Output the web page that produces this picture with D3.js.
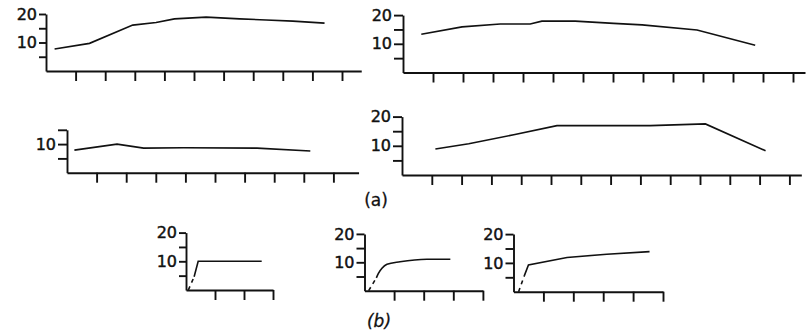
<!DOCTYPE html>
<html>
<head>
	<meta charset="utf-8">
	<script src="https://d3js.org/d3.v7.min.js"></script>
	<style>
		body { margin: 0; background: #fff; }
		svg { display: block; }
		.tick text { font-family: "DejaVu Sans", sans-serif; font-size: 16px; fill: #111; stroke: #111; stroke-width: 0.45; }
		.domain, .tick line { stroke: #111; stroke-width: 1.9; }
		.series { fill: none; stroke: #111; stroke-width: 1.6; }
		.dash { stroke-dasharray: 4,4; }
		.cap { font-family: "DejaVu Sans", sans-serif; font-size: 17px; fill: #111; stroke: #111; stroke-width: 0.3; }
	</style>
</head>
<body>
<script>
// values; x is in tick units, y in the chart's units
var a1x = [0.29, 1.47, 2.93, 3.72, 4.34, 5.41, 6.54, 7.44, 8.34, 9.41];
var a1y = [7.7, 9.7, 16.1, 17.0, 18.3, 18.9, 18.3, 17.9, 17.5, 16.8];

var a2x = [0.61, 1.97, 3.24, 4.24, 4.63, 5.74, 7.02, 7.97, 9.8, 11.74];
var a2y = [13.3, 15.9, 16.9, 16.9, 17.9, 17.9, 17.1, 16.6, 14.8, 9.5];

var a3x = [0.25, 1.69, 2.59, 3.94, 6.42, 8.22];
var a3y = [7.9, 10.0, 8.6, 8.7, 8.6, 7.6];

var a4x = [1.12, 2.24, 3.75, 5.2, 8.33, 10.18, 12.2];
var a4y = [8.9, 10.7, 13.8, 16.9, 16.9, 17.5, 8.3];

var b1dashX = [0.08, 0.28], b1dashY = [0, 4.6];
var b1x = [0.28, 0.42, 2.61], b1y = [4.6, 10, 10];

var b2dashX = [0.14, 0.4], b2dashY = [0, 4.5];
var b2x = [0.4, 0.47, 0.59, 0.76, 1.2, 2.11, 2.9];
var b2y = [4.5, 6.1, 7.9, 9.3, 10.2, 11.1, 11.1];

var b3dashX = [0.17, 0.36], b3dashY = [0, 5.5];
var b3x = [0.36, 0.5, 1.79, 3.12, 4.55];
var b3y = [5.5, 9.3, 11.9, 13.0, 13.9];

var yTicksFull = [5, 10, 15, 20];
var yTicksShort = [5, 10, 15];
var yLabels = [10, 20];
var captions = ["(a)", "(b)"];

var svg = d3.select("body").append("svg").attr("width", 811).attr("height", 332);

// one small chart: origin, tick spacing, axis length and pixels per unit
function panel(p) {
	var x = d3.scaleLinear().domain([0, p.xMax]).range([p.x0, p.x0 + p.xMax * p.sp]);
	var yMax = d3.max(p.yTicks);
	var y = d3.scaleLinear().domain([0, yMax]).range([p.y0, p.y0 - yMax * p.ppu]);
	var g = svg.append("g");

	g.append("g")
		.attr("transform", "translate(0," + p.y0 + ")")
		.call(d3.axisBottom(x).tickValues(d3.range(1, p.nTicks + 1)).tickSize(10).tickSizeOuter(0).tickFormat(""));

	g.append("g")
		.attr("transform", "translate(" + p.x0 + ",0)")
		.call(d3.axisLeft(y).tickValues(p.yTicks).tickSize(p.yTick).tickSizeOuter(0).tickPadding(2)
			.tickFormat(function (d) { return yLabels.indexOf(d) >= 0 ? d : ""; }));

	var line = d3.line().x(function (d) { return x(d[0]); }).y(function (d) { return y(d[1]); });
	if (p.curve) line.curve(p.curve);
	g.append("path").attr("class", "series").attr("d", line(d3.zip(p.xs, p.ys)));

	if (p.dx) {
		g.append("path").attr("class", "series dash")
			.attr("d", d3.line().x(function (d) { return x(d[0]); }).y(function (d) { return y(d[1]); })(d3.zip(p.dx, p.dy)));
	}
}

panel({ x0: 46, y0: 71, sp: 29.6, nTicks: 10, xMax: 10.65, ppu: 2.85, yTicks: yTicksFull, yTick: 7, xs: a1x, ys: a1y });
panel({ x0: 403, y0: 72.5, sp: 30, nTicks: 13, xMax: 13.4, ppu: 2.87, yTicks: yTicksFull, yTick: 9, xs: a2x, ys: a2y });
panel({ x0: 67, y0: 172.7, sp: 29.6, nTicks: 9, xMax: 9.85, ppu: 2.86, yTicks: yTicksShort, yTick: 9, xs: a3x, ys: a3y });
panel({ x0: 402, y0: 175, sp: 29.8, nTicks: 13, xMax: 13.4, ppu: 2.92, yTicks: yTicksFull, yTick: 9, xs: a4x, ys: a4y });
panel({ x0: 186, y0: 290, sp: 29, nTicks: 3, xMax: 3, ppu: 2.87, yTicks: yTicksFull, yTick: 7, xs: b1x, ys: b1y, dx: b1dashX, dy: b1dashY });
panel({ x0: 364.5, y0: 290.7, sp: 29.6, nTicks: 4, xMax: 4, ppu: 2.84, yTicks: yTicksFull, yTick: 8, xs: b2x, ys: b2y, dx: b2dashX, dy: b2dashY, curve: d3.curveMonotoneX });
panel({ x0: 513.5, y0: 291.7, sp: 29.9, nTicks: 5, xMax: 5, ppu: 2.88, yTicks: yTicksFull, yTick: 8, xs: b3x, ys: b3y, dx: b3dashX, dy: b3dashY });

svg.append("text").attr("class", "cap").attr("x", 376).attr("y", 206).attr("text-anchor", "middle")
	.text(captions[0]);
svg.append("text").attr("class", "cap").attr("x", 379).attr("y", 327).attr("text-anchor", "middle")
	.style("font-style", "italic").text(captions[1]);
</script>
</body>
</html>
